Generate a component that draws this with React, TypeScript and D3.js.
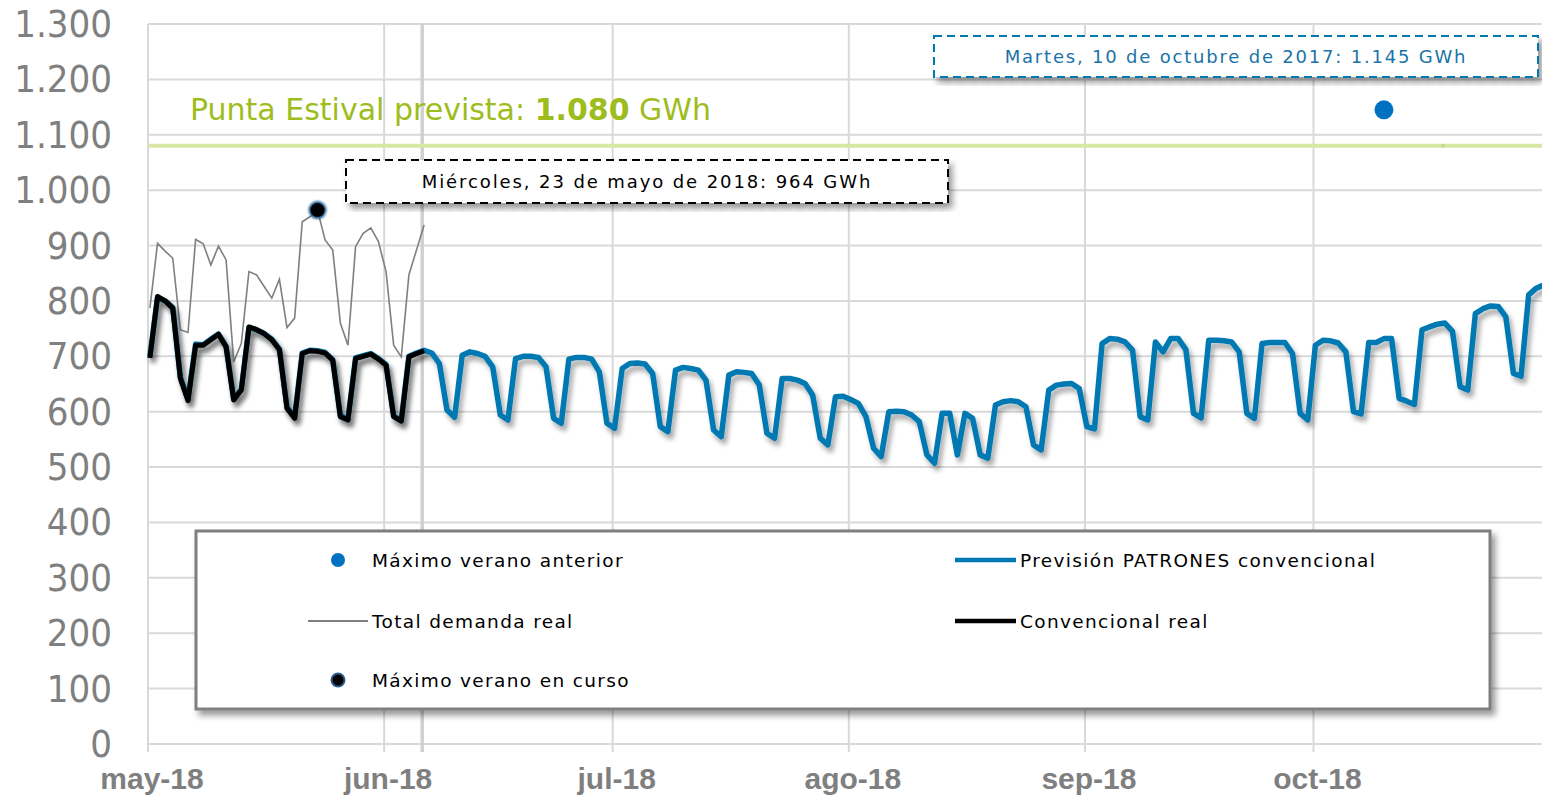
import * as d3 from "d3";

// daily values in GWh, starting 1 May 2018
const realConventional = [
  697, 808, 800, 787, 660, 620, 720, 720, 730, 740, 717, 621, 639, 753, 748, 741,
  730, 712, 606, 588, 705, 710, 709, 706, 693, 591, 585, 696, 700, 704, 695, 684,
  591, 583, 699, 705, 710,
];

const realTotal = [
  787, 904, 890, 877, 748, 743, 911, 903, 865, 899, 874, 690, 723, 853, 847, 826,
  805, 839, 752, 769, 943, 952, 964, 910, 892, 760, 720, 898, 922, 932, 907, 853,
  720, 699, 847, 892, 937,
];

const forecast = [
  // may
  700, 806, 800, 788, 662, 622, 722, 721, 731, 740, 718, 623, 640, 752, 748, 741,
  731, 713, 608, 590, 706, 711, 710, 707, 694, 593, 586, 697, 701, 705, 696,
  // jun
  685, 592, 584, 700, 706, 711, 706, 687, 603, 590, 702, 708, 705, 700, 681, 594,
  585, 696, 700, 700, 698, 681, 588, 579, 695, 698, 698, 695, 672, 579,
  // jul
  570, 678, 687, 688, 686, 669, 573, 564, 675, 680, 678, 675, 657, 567, 555, 666,
  672, 671, 669, 648, 561, 552, 660, 660, 657, 651, 630, 552, 540, 627, 628,
  // ago
  622, 615, 591, 534, 519, 600, 601, 600, 594, 582, 522, 507, 597, 597, 522, 597,
  588, 522, 516, 612, 618, 620, 618, 609, 540, 531, 639, 648, 650, 651, 642,
  // sep
  573, 569, 723, 732, 731, 726, 711, 591, 585, 726, 708, 732, 732, 712, 597, 589,
  729, 729, 728, 726, 708, 597, 588, 723, 725, 725, 725, 705, 597, 585,
  // oct
  720, 729, 728, 724, 708, 600, 596, 725, 725, 732, 732, 624, 619, 613, 748, 753,
  758, 760, 745, 645, 639, 777, 786, 791, 790, 771, 669, 664, 811, 823, 829,
];

const monthTicks = ["may-18", "jun-18", "jul-18", "ago-18", "sep-18", "oct-18"];
const yTicks = [0, 100, 200, 300, 400, 500, 600, 700, 800, 900, 1000, 1100, 1200, 1300];

const peakForecast = 1080;
const prevMax = { date: new Date(2018, 9, 10), value: 1145 };
const currentMax = { date: new Date(2018, 4, 23), value: 964 };
const today = new Date(2018, 5, 6);

const start = new Date(2018, 4, 1);
const fmt = d3.formatLocale({ decimal: ",", thousands: ".", grouping: [3], currency: ["", ""] }).format(",");

const BLUE = "#0079b3";
const GREEN_TXT = "#9dbd1c";
const GRID = "#d9d9d9";
const AXIS_TXT = "#7f7f7f";
const FONT = "DejaVu Sans, Verdana, sans-serif";

export default function App() {
  const left = 148, right = 1542, top = 24, bottom = 744;
  const x = d3.scaleTime().domain([start, new Date(2018, 9, 31)]).range([left, right]);
  const y = d3.scaleLinear().domain([0, 1300]).range([bottom, top]);

  const shift = (d: Date) => d3.timeHour.offset(d, 6);
  const dayX = (i: number) => x(shift(d3.timeDay.offset(start, i)));
  const line = d3
    .line<number>()
    .x((_, i) => dayX(i))
    .y((d) => y(d));

  const months = d3.timeMonth.range(start, new Date(2018, 10, 1));

  return (
    <svg width={1542} height={798} style={{ position: "absolute", left: 0, top: 0, background: "#fff" }}>
      <defs>
        <filter id="sh" x="-5%" y="-20%" width="110%" height="140%">
          <feDropShadow dx="3" dy="5" stdDeviation="2.5" floodColor="#000" floodOpacity="0.35" />
        </filter>
        <filter id="shBox" x="-5%" y="-10%" width="110%" height="130%">
          <feDropShadow dx="4" dy="5" stdDeviation="3" floodColor="#000" floodOpacity="0.4" />
        </filter>
        <filter id="shAxis" x="-5%" y="-200%" width="110%" height="800%">
          <feDropShadow dx="2" dy="5" stdDeviation="3" floodColor="#000" floodOpacity="0.4" />
        </filter>
        <filter id="glow" x="-50%" y="-50%" width="200%" height="200%">
          <feGaussianBlur stdDeviation="1" />
        </filter>
      </defs>

      {/* grid */}
      {yTicks.map((t) => (
        <line key={"h" + t} x1={left} x2={right} y1={y(t)} y2={y(t)} stroke={GRID} strokeWidth={2} />
      ))}
      <line x1={left} x2={left} y1={top} y2={bottom + 8} stroke={GRID} strokeWidth={2} />
      {months.map((m, i) => (
        <line key={"v" + i} x1={x(m)} x2={x(m)} y1={top} y2={bottom + 8} stroke={GRID} strokeWidth={2} />
      ))}
      <line x1={x(today)} x2={x(today)} y1={top} y2={bottom + 8} stroke="#d0d0d0" strokeWidth={3.5} />

      {/* x axis */}
      <line x1={left} x2={right} y1={bottom} y2={bottom} stroke="#c8c8c8" strokeWidth={2.5} filter="url(#shAxis)" />

      {/* y labels */}
      {yTicks.map((t) => (
        <text
          key={"yl" + t}
          transform={`translate(112,${y(t) + 13}) scale(0.9,1)`}
          textAnchor="end"
          fontFamily={FONT}
          fontSize={38}
          fill={AXIS_TXT}
        >
          {fmt(t)}
        </text>
      ))}

      {/* x labels */}
      {months.slice(0, 6).map((m, i) => (
        <text
          key={"xl" + i}
          x={x(m) + 4}
          y={789}
          textAnchor="middle"
          fontFamily="Liberation Sans, Arial, sans-serif"
          fontWeight="bold"
          fontSize={30}
          fill={AXIS_TXT}
        >
          {monthTicks[i]}
        </text>
      ))}

      {/* forecast peak */}
      <line x1={left} x2={right} y1={y(peakForecast)} y2={y(peakForecast)} stroke="#d8e6a6" strokeWidth={4} />
      <circle cx={x(new Date(2018, 9, 18))} cy={y(peakForecast)} r={2} fill="#c5d98a" />
      <text x={190} y={120} fontFamily={FONT} fontSize={30} fill={GREEN_TXT}>
        Punta Estival prevista:{" "}
        <tspan fontWeight="bold">{fmt(peakForecast)}</tspan> GWh
      </text>

      {/* series */}
      <path d={line(forecast) ?? ""} fill="none" stroke={BLUE} strokeWidth={5.5} strokeLinejoin="round" filter="url(#sh)" />
      <path d={line(realTotal) ?? ""} fill="none" stroke="#7f7f7f" strokeWidth={1.6} />
      <path d={line(realConventional) ?? ""} fill="none" stroke="#000" strokeWidth={5} strokeLinejoin="round" filter="url(#sh)" />

      {/* maxima */}
      <circle cx={x(shift(prevMax.date))} cy={y(prevMax.value)} r={9.5} fill="#0070c0" />
      <circle cx={x(shift(currentMax.date))} cy={y(currentMax.value)} r={9} fill="#1f5f96" filter="url(#glow)" />
      <circle cx={x(shift(currentMax.date))} cy={y(currentMax.value)} r={7} fill="#000" />

      {/* annotation boxes */}
      <g filter="url(#shBox)">
        <rect x={346} y={160} width={602} height={43} fill="#fff" stroke="#000" strokeWidth={2} strokeDasharray="8,5" />
      </g>
      <text x={647} y={188} textAnchor="middle" fontFamily={FONT} fontSize={18} letterSpacing={1.9} fill="#000">
        Miércoles, 23 de mayo de 2018: 964 GWh
      </text>
      <g filter="url(#shBox)">
        <rect x={934} y={36} width={604} height={41} fill="#fff" stroke={BLUE} strokeWidth={2} strokeDasharray="8,5" />
      </g>
      <text x={1236} y={63} textAnchor="middle" fontFamily={FONT} fontSize={18} letterSpacing={1.8} fill="#1a73a6">
        Martes, 10 de octubre de 2017: {fmt(prevMax.value)} GWh
      </text>

      {/* legend */}
      <rect x={196} y={531} width={1294} height={178} fill="#fff" stroke="#7f7f7f" strokeWidth={3} filter="url(#shBox)" />
      <g fontFamily={FONT} fontSize={18.5} letterSpacing={1.35} fill="#000">
        <circle cx={338} cy={560} r={7} fill="#0070c0" />
        <text x={372} y={567}>Máximo verano anterior</text>
        <line x1={308} x2={368} y1={621} y2={621} stroke="#7f7f7f" strokeWidth={2} />
        <text x={372} y={628}>Total demanda real</text>
        <circle cx={338} cy={680} r={7.5} fill="#2a5d8f" />
        <circle cx={338} cy={680} r={5.5} fill="#000" />
        <text x={372} y={687}>Máximo verano en curso</text>
        <line x1={955} x2={1016} y1={560} y2={560} stroke={BLUE} strokeWidth={4.5} />
        <text x={1020} y={567}>Previsión PATRONES convencional</text>
        <line x1={955} x2={1016} y1={621} y2={621} stroke="#000" strokeWidth={4.5} />
        <text x={1020} y={628}>Convencional real</text>
      </g>
    </svg>
  );
}
